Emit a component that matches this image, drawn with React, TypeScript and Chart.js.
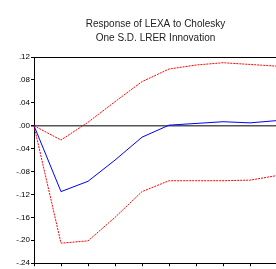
import React, { useEffect, useRef } from "react";
import { Chart, registerables } from "chart.js";

Chart.register(...registerables);

const periods = ["1", "2", "3", "4", "5", "6", "7", "8", "9", "10"];
const response = [0, -0.115, -0.097, -0.06, -0.02, 0.001, 0.004, 0.007, 0.005, 0.009];
const upperBand = [0, -0.025, 0.006, 0.042, 0.077, 0.099, 0.106, 0.11, 0.107, 0.104];
const lowerBand = [0, -0.205, -0.201, -0.16, -0.115, -0.096, -0.096, -0.096, -0.095, -0.087];
const yTicks = [0.12, 0.08, 0.04, 0, -0.04, -0.08, -0.12, -0.16, -0.2, -0.24];
const titleLines = ["Response of LEXA to Cholesky", "One S.D. LRER Innovation"];

function fmt(v: number): string {
  const s = Math.abs(v).toFixed(2).replace(/^0/, "");
  return v < -1e-9 ? "-" + s : s;
}

const titlePlugin = {
  id: "centeredTitle",
  afterDraw(chart: any) {
    const { ctx, chartArea } = chart;
    const cx = (chartArea.left + chartArea.right) / 2;
    ctx.save();
    ctx.fillStyle = "#222";
    ctx.font = "10px 'Liberation Sans', Arial, sans-serif";
    ctx.textAlign = "center";
    ctx.textBaseline = "middle";
    titleLines.forEach((line, i) => {
      ctx.fillText(line, cx, 24 + i * 14);
    });
    ctx.restore();
  },
};

export default function App() {
  const ref = useRef<HTMLCanvasElement | null>(null);
  useEffect(() => {
    if (!ref.current) return;
    const chart = new Chart(ref.current, {
      type: "line",
      data: {
        labels: periods,
        datasets: [
          {
            data: upperBand,
            borderColor: "#ff0000",
            borderWidth: 1,
            borderDash: [2, 1],
            pointRadius: 0,
            tension: 0,
          },
          {
            data: response,
            borderColor: "#0000ff",
            borderWidth: 1,
            pointRadius: 0,
            tension: 0,
          },
          {
            data: lowerBand,
            borderColor: "#ff0000",
            borderWidth: 1,
            borderDash: [2, 1],
            pointRadius: 0,
            tension: 0,
          },
        ],
      },
      plugins: [titlePlugin],
      options: {
        animation: false,
        responsive: false,
        maintainAspectRatio: false,
        layout: { padding: { left: 0, right: 13, top: 57, bottom: 0 } },
        plugins: {
          legend: { display: false },
          tooltip: { enabled: false },
          title: { display: false },
        },
        scales: {
          x: {
            type: "category",
            offset: false,
            ticks: { display: false },
            grid: {
              drawOnChartArea: false,
              drawTicks: true,
              tickLength: 3,
              tickColor: "#000",
            },
            border: { display: true, color: "#000", width: 1 },
            afterFit: (s: any) => {
              s.height = 3;
            },
          },
          y: {
            min: -0.24,
            max: 0.12,
            afterBuildTicks: (s: any) => {
              s.ticks = yTicks.map((v) => ({ value: v }));
            },
            ticks: {
              callback: (v: any) => fmt(Number(v)),
              color: "#000",
              padding: 1,
              font: { family: "Liberation Sans, Arial, sans-serif", size: 8 },
            },
            grid: {
              color: (c: any) => {
                const v = c.tick ? c.tick.value : null;
                if (v === null) return "transparent";
                if (Math.abs(v) < 1e-9) return "#555";
                if (Math.abs(v - 0.12) < 1e-9) return "#000";
                return "transparent";
              },
              lineWidth: (c: any) => {
                const v = c.tick ? c.tick.value : null;
                if (v !== null && Math.abs(v) < 1e-9) return 1.5;
                return 1;
              },
              tickColor: "#000",
              tickLength: 3,
            },
            border: { display: true, color: "#000", width: 1 },
            afterFit: (s: any) => {
              s.width = 34;
            },
          },
        },
      },
    });
    return () => chart.destroy();
  }, []);
  return (
    <div
      style={{
        position: "fixed",
        left: 0,
        top: 0,
        width: 276,
        height: 269,
        overflow: "hidden",
        background: "#fff",
      }}
    >
      <canvas ref={ref} width={290} height={269} style={{ width: 290, height: 269, display: "block" }} />
    </div>
  );
}
